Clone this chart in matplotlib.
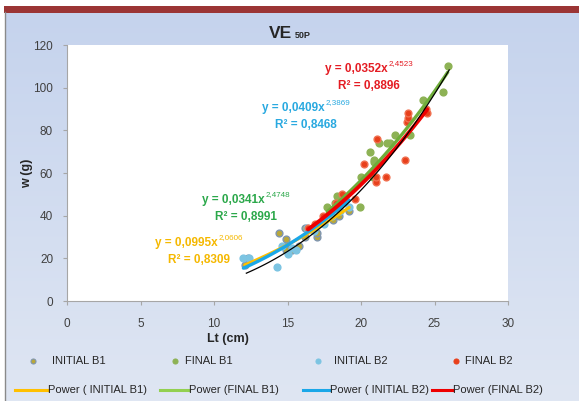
import numpy as np
import matplotlib.pyplot as plt
from matplotlib.patches import Rectangle
from matplotlib.colors import LinearSegmentedColormap

plt.rcParams['font.family'] = ['Liberation Sans', 'DejaVu Sans']

# data: Lt (cm), w (g)
ib1_lt = [12.1, 12.3, 14.4, 14.9, 14.9, 14.9, 15.3, 15.8, 16.2, 16.2, 17.0, 17.0, 18.1, 18.5, 19.2]
ib1_w = [17, 20, 32, 29, 26, 24, 24, 26, 30, 34, 30, 32, 38, 40, 42]

fb1_lt = [17.7, 18.2, 18.4, 19.9, 20.0, 20.6, 20.8, 20.9, 20.9, 21.2, 21.8, 22.0, 22.3, 23.3, 24.2, 25.6, 25.9]
fb1_w = [44, 46, 49, 44, 58, 70, 58, 65, 66, 74, 74, 74, 78, 78, 94, 98, 110]

ib2_lt = [12.0, 12.4, 14.3, 14.6, 15.0, 15.3, 15.6, 16.3, 16.8, 17.5, 18.0, 18.6, 19.2]
ib2_w = [20, 20, 16, 26, 22, 25, 24, 34, 33, 36, 40, 42, 44]

fb2_lt = [16.4, 16.9, 17.4, 18.3, 18.7, 19.6, 20.2, 21.0, 21.0, 21.1, 21.7, 23.0, 23.1, 23.2, 23.2, 24.4, 24.5]
fb2_w = [34, 36, 40, 46, 50, 48, 64, 56, 58, 76, 58, 66, 84, 86, 88, 90, 88]

# power trend coefficients as printed on the chart (a, b) and R²
ib1_fit = (0.0995, 2.0606, 0.8309)
fb1_fit = (0.0341, 2.4748, 0.8991)
ib2_fit = (0.0409, 2.3869, 0.8468)
fb2_fit = (0.0352, 2.4523, 0.8896)
all_fit = (0.0119, 2.798)   # thin black overall trend

series_names = ['INITIAL B1', 'FINAL B1', 'INITIAL B2', 'FINAL B2']
trend_names = ['Power ( INITIAL B1)', 'Power (FINAL B1)', 'Power ( INITIAL B2)', 'Power (FINAL B2)']

c_ib1, c_fb1, c_ib2, c_fb2 = '#ffc000', '#92d050', '#1aa7e8', '#ee0000'

fig = plt.figure(figsize=(5.79, 4.01), dpi=100)

# background panel (pixel coordinates)
bg = fig.add_axes([0, 0, 1, 1], zorder=-10)
bg.set_xlim(0, 579)
bg.set_ylim(401, 0)
bg.axis('off')
grad = np.linspace(0, 1, 256).reshape(-1, 1)
bg.imshow(grad, extent=[5, 579, 401, 12], aspect='auto',
          cmap=LinearSegmentedColormap.from_list('bgc', ['#c5d3ed', '#dfe6f3']))
bg.add_patch(Rectangle((4, 6), 575, 7, color='#9b3535', lw=0))
bg.plot([5, 5], [12, 401], color='#8a8a8a', lw=1)

ax = fig.add_axes([67 / 579, 1 - 301 / 401, 441 / 579, 256 / 401])
ax.set_facecolor('white')

mk = dict(s=24, zorder=3, linewidths=1)
ax.scatter(ib1_lt, ib1_w, c='#b9a83a', edgecolors='#7f95b0', **mk)
ax.scatter(fb1_lt, fb1_w, c='#8db255', edgecolors='#8db255', **mk)
ax.scatter(ib2_lt, ib2_w, c='#7cc4e2', edgecolors='#7cc4e2', **mk)
ax.scatter(fb2_lt, fb2_w, c='#e8401c', edgecolors='#f07050', **mk)


def trend(lt, fit, color, lw):
    xs = np.linspace(min(lt), max(lt), 100)
    ax.plot(xs, fit[0] * xs ** fit[1], color=color, lw=lw, zorder=4, solid_capstyle='round')


trend(ib1_lt, ib1_fit, c_ib1, 2.2)
trend(fb1_lt, fb1_fit, '#6fae3a', 2.4)
trend(ib2_lt, ib2_fit, c_ib2, 2.4)
trend(fb2_lt, fb2_fit, c_fb2, 2.8)
xs_all = np.linspace(12.2, 26, 100)
ax.plot(xs_all, all_fit[0] * xs_all ** all_fit[1], color='black', lw=0.9, zorder=5)

ax.set_xlim(0, 30)
ax.set_ylim(0, 120)
ax.set_xticks(range(0, 31, 5))
ax.set_yticks(range(0, 121, 20))
for s in ['top', 'right']:
    ax.spines[s].set_visible(False)
for s in ['left', 'bottom']:
    ax.spines[s].set_color('#a6a6a6')
ax.tick_params(colors='#a6a6a6', labelcolor='#404040', labelsize=8.5, length=3)
ax.tick_params(axis='y', pad=7)
ax.tick_params(axis='x', pad=9)

tb = dict(transform=bg.transData, fontweight='bold', color='#262626')
fig.text(228, 339, 'Lt (cm)', fontsize=9, ha='center', va='center', **tb)
fig.text(27, 173, 'w (g)', fontsize=9, ha='center', va='center', rotation=90, **tb)
fig.text(280, 33, 'VE', fontsize=12.5, ha='center', va='center', **tb)
fig.text(295, 35, '50P', fontsize=6.5, ha='left', va='center', **tb)

# trendline equations (pixel positions of left edge / centre line)
eq_pos = [(155, 243, 168, ib1_fit, '#f5b800'),
          (202, 200, 215, fb1_fit, '#2ba84a'),
          (262, 108, 275, ib2_fit, '#29a9e0'),
          (325, 69, 338, fb2_fit, '#e41c23')]
renderer = fig.canvas.get_renderer()
for x, y, xr, fit, col in eq_pos:
    a = ('%.4f' % fit[0]).replace('.', ',')
    b = ('%.4f' % fit[1]).replace('.', ',')
    r2 = ('%.4f' % fit[2]).replace('.', ',')
    t = fig.text(x, y, 'y = %sx' % a, fontsize=8.5, fontweight='bold', color=col,
                 ha='left', va='center', transform=bg.transData)
    bb = t.get_window_extent(renderer=renderer)
    fig.text(bb.x1 + 1, y - 5, b, fontsize=5.8, color=col, ha='left', va='center',
             transform=bg.transData)
    fig.text(xr, y + 17, 'R² = %s' % r2, fontsize=8.5, fontweight='bold', color=col,
             ha='left', va='center', transform=bg.transData)

# legend drawn by hand in pixel coordinates
marker_style = [('#b9a83a', '#7f95b0'), ('#8db255', '#8db255'),
                ('#7cc4e2', '#7cc4e2'), ('#e8401c', '#e8401c')]
mk_x = [33, 175, 318, 456]
txt1_x = [52, 185, 334, 465]
line_x = [(15, 48), (160, 189), (303, 330), (432, 453)]
line_c = [c_ib1, c_fb1, c_ib2, c_fb2]
for i in range(4):
    bg.plot(mk_x[i], 361, 'o', ms=3.6, mfc=marker_style[i][0], mec=marker_style[i][1], mew=0.8)
    bg.text(txt1_x[i], 361, series_names[i], fontsize=8, color='#262626', va='center', ha='left')
    bg.plot(line_x[i], [390, 390], color=line_c[i], lw=2.2)
    bg.text(line_x[i][1], 390, trend_names[i], fontsize=8, color='#262626', va='center', ha='left')

fig.savefig('out.png', dpi=100)
